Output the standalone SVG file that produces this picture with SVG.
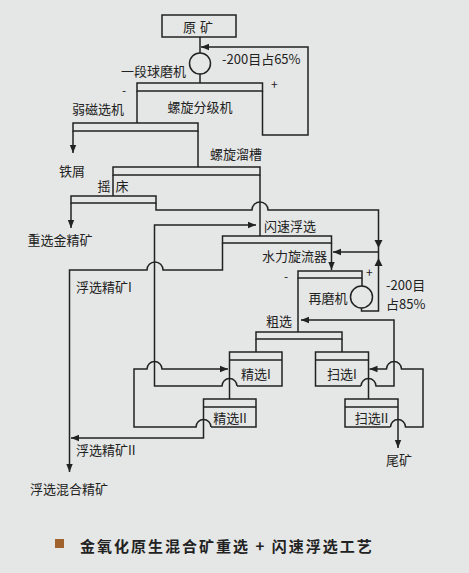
<svg xmlns="http://www.w3.org/2000/svg" width="469" height="573" viewBox="0 0 469 573">
<defs>
<marker id="ah" viewBox="0 0 10 10" refX="10" refY="5" markerWidth="8" markerHeight="8" markerUnits="userSpaceOnUse" orient="auto">
<path d="M0,1 L10,5 L0,9 Z" fill="#222"/>
</marker>
</defs>
<style>
.ln{fill:none;stroke:#222;stroke-width:1.5}
.bx{fill:none;stroke:#222;stroke-width:1.5}
.ar{fill:none;stroke:#222;stroke-width:1.5;marker-end:url(#ah)}
text{font-family:"Noto Sans CJK SC","Noto Sans",sans-serif;font-size:13px;fill:#222;dominant-baseline:central}
.c{text-anchor:middle}
.s{font-size:12px}
.t{font-size:15px;font-weight:bold;letter-spacing:2px}
</style>
<rect width="469" height="573" fill="#e5e7e6"/>

<g id="connectors">
<path class="ln" d="M200,37 V53 M200,74 V83"/>
<path class="ar" d="M262.5,91 V135 H308 V47 H201"/>
<path class="ln" d="M137,91 V123"/>
<path class="ar" d="M73,131 V153"/>
<path class="ln" d="M198,131 V167"/>
<path class="ln" d="M113,175 V196"/>
<path class="ln" d="M260,175 V236"/>
<path class="ar" d="M71,203 V228"/>
<path class="ln" d="M156,203 V210 H252 A8,8 0 0 1 268,210 H378.5 V311 H361.5 V308"/>
<path d="M374.5,240 L382.5,240 L378.5,248 Z" fill="#222"/>
<path d="M374.5,266 L382.5,266 L378.5,258 Z" fill="#222"/>
<path class="ar" d="M378.5,252 H333"/>
<path class="ar" d="M331.5,243 V270"/>
<path class="ar" d="M222.5,243 V270 H163 A8,8 0 0 0 147,270 H69.5 V472"/>
<path class="ln" d="M362,278 V286"/>
<path class="ln" d="M298,278 V332"/>
<path class="ln" d="M256,339 V352 M342,339 V352"/>
<path class="ar" d="M237,386 A7.5,7.5 0 0 0 222,386 H154.5 V225 H256"/>
<path class="ln" d="M229.5,386 V399"/>
<path class="ar" d="M211,427 A7.5,7.5 0 0 0 196,427 H134 V369 H147 A7.5,7.5 0 0 1 162,369 H228"/>
<path class="ar" d="M203.5,427 V438 H71"/>
<path class="ar" d="M361,386 A7.5,7.5 0 0 1 376,386 H394 V320 H301"/>
<path class="ln" d="M368.5,386 V399"/>
<path class="ar" d="M390.5,427 A7.5,7.5 0 0 1 405.5,427 H423 V369 H401.5 A7.5,7.5 0 0 0 386.5,369 H369.5"/>
<path class="ar" d="M398,427 V448"/>
</g>

<g id="yuankuang"><rect class="bx" x="162" y="15" width="74" height="22"/><text class="c" x="200" y="26" style="letter-spacing:4px">原矿</text></g>
<g id="qiumoji"><circle class="bx" cx="200" cy="63.5" r="10.5"/><text x="121" y="70">一段球磨机</text><text x="222" y="58">-200目占65%</text></g>
<g id="fenjiji"><rect class="bx" x="137" y="83" width="125.5" height="8"/><text class="s" x="122" y="89">-</text><text class="s" x="271" y="83">+</text><text class="c" x="200" y="106">螺旋分级机</text></g>
<g id="ruoci"><rect class="bx" x="73" y="123" width="125" height="8"/><text x="72" y="108">弱磁选机</text></g>
<g id="tiexie"><text class="c" x="72" y="170">铁屑</text></g>
<g id="liucao"><rect class="bx" x="113" y="167" width="147" height="8"/><text x="210" y="153">螺旋溜槽</text></g>
<g id="yaochuang"><rect class="bx" x="71" y="196" width="85" height="7"/><text class="c" x="104" y="185">摇</text><text class="c" x="122" y="185">床</text></g>
<g id="zhongxuan"><text class="c" x="60" y="239">重选金精矿</text></g>
<g id="shansu"><rect class="bx" x="222.5" y="236" width="109" height="7"/><text x="264" y="225">闪速浮选</text></g>
<g id="xuanliuqi"><text x="262" y="255">水力旋流器</text></g>
<g id="zaimoji"><rect class="bx" x="298" y="271" width="64" height="7"/><circle class="bx" cx="361.5" cy="297" r="11"/><text class="s" x="284" y="275">-</text><text class="s" x="366" y="271">+</text><text class="c" x="328" y="297">再磨机</text><text x="386" y="284">-200目</text><text x="386" y="303">占85%</text></g>
<g id="cuxuan"><rect class="bx" x="256" y="332" width="86" height="7"/><text class="c" x="279" y="320">粗选</text></g>
<g id="fuxuan1"><text x="76" y="286">浮选精矿I</text></g>
<g id="jingxuan1"><path class="bx" d="M229.5,386 V352 H282 V386 H237 M229.5,360 H282"/><text class="c" x="256" y="373">精选I</text></g>
<g id="jingxuan2"><path class="bx" d="M203.5,427 V399 H256 V427 H211 M203.5,407 H256"/><text class="c" x="230" y="417">精选II</text></g>
<g id="saoxuan1"><path class="bx" d="M361,386 H315.5 V352 H368.5 V386 M315.5,360 H368.5"/><text class="c" x="342" y="373">扫选I</text></g>
<g id="saoxuan2"><path class="bx" d="M390.5,427 H345 V399 H398 V427 M345,407 H398"/><text class="c" x="371.5" y="417">扫选II</text></g>
<g id="fuxuan2"><text x="76" y="449">浮选精矿II</text></g>
<g id="weikuang"><text class="c" x="399" y="459">尾矿</text></g>
<g id="hunhe"><text class="c" x="69" y="488">浮选混合精矿</text></g>
<g id="title"><rect x="55" y="539" width="9" height="9" fill="#a0632d"/><text class="t" x="80" y="545">金氧化原生混合矿重选 + 闪速浮选工艺</text></g>
</svg>
